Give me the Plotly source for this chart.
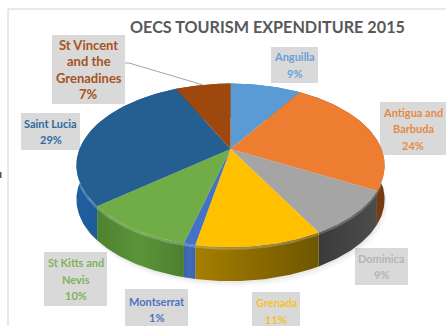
import numpy as np
import plotly.graph_objects as go

# Share of OECS tourism expenditure, 2015 (percent), clockwise from twelve o'clock
countries = ["Anguilla", "Antigua and<br>Barbuda", "Dominica", "Grenada", "Montserrat",
             "St Kitts and<br>Nevis", "Saint Lucia", "St Vincent<br>and the<br>Grenadines"]
shares = [9, 24, 9, 11, 1, 10, 29, 7]
top_colors = ["#5b9bd5", "#ed7d31", "#a5a5a5", "#ffc000", "#4472c4", "#70ad47", "#255e91", "#9e480e"]
wall_left = ["#3c6c98", "#7a3c10", "#3a3a3a", "#a67f00", "#3a64ae", "#4f8230", "#1f5f9e", "#70330a"]
wall_mid = ["#4f86ba", "#8c4a14", "#444444", "#8a6a00", "#3f6cb8", "#5a9438", "#1c5790", "#8a4010"]
wall_right = ["#3c6c98", "#74390f", "#4c4c4c", "#6f5600", "#3a64ae", "#4e7f30", "#17497c", "#70330a"]
label_colors = ["#6a9fd6", "#e58a45", "#b4b4b4", "#f5c226", "#4d74c0", "#7fb35a", "#2f6a9e", "#a8521c"]
label_sizes = [11, 11, 11, 11, 11, 11, 11, 13]

# Label boxes: left, right, top, bottom in page pixels
label_boxes = [(271, 318, 47, 83), (380, 446, 102, 155), (355, 408, 248, 285), (252, 300, 292, 330),
               (125, 188, 289, 330), (44, 107, 252, 306), (21, 80, 113, 150), (52, 125, 35, 104)]
LINE_STEP = 16.5

APEX_X, APEX_Y = 230.5, 149.0
RX, RY, TILT = 151.0, 78.5, 0.2
DEPTH = 34.0


def rim(theta):
    """Perspective projection of a circle point at clockwise angle theta."""
    d = 1 + TILT * np.cos(theta)
    return APEX_X + RX * np.sin(theta) / d, APEX_Y - RY * np.cos(theta) / d


fig = go.Figure()
skip = dict(mode="lines", hoverinfo="skip", showlegend=False)

# Soft shadow under the pie
full = np.linspace(0, 2 * np.pi, 240)
sx, sy = rim(full)
for grow, alpha in [(6, 0.03), (4, 0.04), (2, 0.06)]:
    fig.add_trace(go.Scatter(x=sx + grow * 0.5, y=sy + DEPTH + grow, fill="toself",
                             fillcolor=f"rgba(90,90,90,{alpha})", line=dict(width=0), **skip))

edges = np.cumsum([0] + shares) / sum(shares) * 2 * np.pi
arcs = [np.linspace(edges[i], edges[i + 1], max(8, shares[i] * 4)) for i in range(len(shares))]

# Outer walls, drawn first so the top faces cover the hidden back half
for arc, c0, c1, c2 in zip(arcs, wall_left, wall_mid, wall_right):
    ax, ay = rim(arc)
    fig.add_trace(go.Scatter(
        x=np.r_[ax, ax[::-1]], y=np.r_[ay, ay[::-1] + DEPTH], fill="toself",
        fillgradient=dict(type="horizontal", colorscale=[[0, c0], [0.5, c1], [1, c2]]),
        line=dict(width=0), **skip))

# Light bevel along the front rim, on the wall just below the top face
bevel = np.linspace(np.pi * 0.42, np.pi * 1.58, 160)
bx, by = rim(bevel)
fig.add_trace(go.Scatter(x=bx, y=by + 1.5, line=dict(color="rgba(255,255,255,0.22)", width=2.5), **skip))

# Top faces
for arc, color in zip(arcs, top_colors):
    ax, ay = rim(arc)
    fig.add_trace(go.Scatter(x=np.r_[APEX_X, ax, APEX_X], y=np.r_[APEX_Y, ay, APEX_Y], fill="toself",
                             fillcolor=color, line=dict(width=0), **skip))

# Leader from the St Vincent label to the middle of its slice
lx, ly = rim((edges[-2] + edges[-1]) / 2)
fig.add_trace(go.Scatter(x=[125, 129, lx], y=[63, 63, ly], line=dict(color="#a6a6a6", width=1), **skip))

shapes = [dict(type="rect", layer="below", x0=l, x1=r, y0=t, y1=b, fillcolor="#d9d9d9", line_width=0)
          for l, r, t, b in label_boxes]
# Thin frame around the chart area
frame = dict(type="line", layer="below", line=dict(color="#e2e2e2", width=1.5))
shapes += [dict(frame, x0=8, x1=446, y0=9, y1=9), dict(frame, x0=8, x1=8, y0=9, y1=326)]
# Small dark tick on the left page edge
shapes.append(dict(type="rect", layer="below", x0=0, x1=1.5, y0=172, y1=178, fillcolor="#555555", line_width=0))

# Each label is set line by line so the leading stays even
annotations = []
for (l, r, t, b), name, val, col, size in zip(label_boxes, countries, shares, label_colors, label_sizes):
    lines = name.split("<br>") + [f"{val}%"]
    mid = (t + b) / 2
    for i, line in enumerate(lines):
        annotations.append(dict(x=(l + r) / 2, y=mid + (i - (len(lines) - 1) / 2) * LINE_STEP,
                                text=f"<b>{line}</b>", showarrow=False,
                                font=dict(family="Lato", size=size, color=col)))

annotations.append(dict(x=267.5, y=26, text="<b>OECS TOURISM EXPENDITURE 2015</b>", showarrow=False,
                        font=dict(family="Lato", size=16.2, color="#595959")))

fig.update_layout(
    width=446, height=326, margin=dict(l=0, r=0, t=0, b=0), paper_bgcolor="white", plot_bgcolor="white",
    xaxis=dict(range=[0, 446], visible=False, fixedrange=True),
    yaxis=dict(range=[326, 0], visible=False, fixedrange=True),
    shapes=shapes, annotations=annotations, showlegend=False,
)
fig.write_html("out.html", config=dict(displayModeBar=False))
